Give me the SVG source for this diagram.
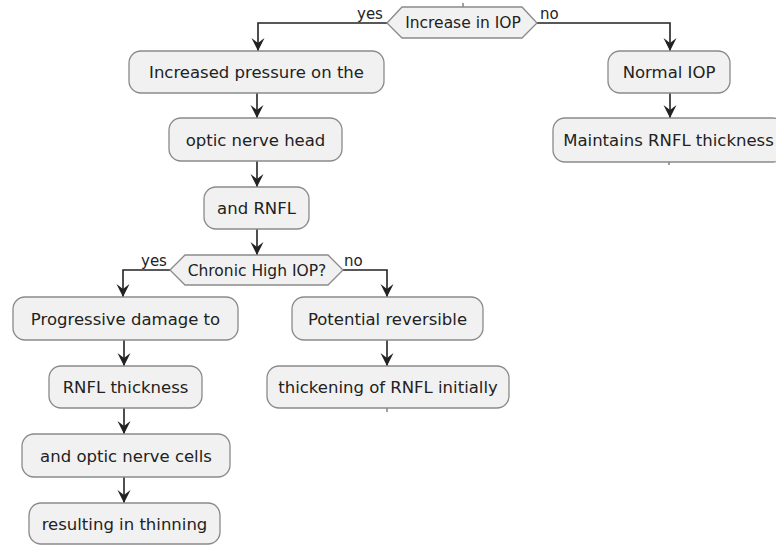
<svg xmlns="http://www.w3.org/2000/svg" width="776" height="546" viewBox="0 0 776 546">
<defs>
<marker id="ah" viewBox="0 0 14 14" refX="13" refY="7" markerWidth="14" markerHeight="14" markerUnits="userSpaceOnUse" orient="auto">
<path d="M0,0.5 L13,7 L0,13.5 L5,7 Z" fill="#222"/>
</marker>
</defs>
<style>
.box{fill:#F1F1F1;stroke:#8a8a8a;stroke-width:1.3}
.t{font-family:"DejaVu Sans",sans-serif;font-size:16.5px;fill:#222;text-anchor:middle}
.dt{font-family:"DejaVu Sans",sans-serif;font-size:15.5px;fill:#222;text-anchor:middle}
.lb{font-family:"DejaVu Sans",sans-serif;font-size:15px;fill:#222}
.c{fill:none;stroke:#222;stroke-width:1.6}
.s{fill:none;stroke:#444;stroke-width:1}
</style>
<rect width="776" height="546" fill="#fff"/>
<g id="connectors">
<path class="s" d="M463,3 V7"/>
<path class="c" d="M387,23 H258 V51" marker-end="url(#ah)"/>
<path class="c" d="M537,23 H670 V51" marker-end="url(#ah)"/>
<path class="c" d="M257,93 V118" marker-end="url(#ah)"/>
<path class="c" d="M257,161 V187" marker-end="url(#ah)"/>
<path class="c" d="M257,229 V255" marker-end="url(#ah)"/>
<path class="c" d="M170,270 H123 V297" marker-end="url(#ah)"/>
<path class="c" d="M343,270 H387 V297" marker-end="url(#ah)"/>
<path class="c" d="M124,340 V366" marker-end="url(#ah)"/>
<path class="c" d="M387,340 V366" marker-end="url(#ah)"/>
<path class="c" d="M124,408 V434" marker-end="url(#ah)"/>
<path class="c" d="M124,477 V503" marker-end="url(#ah)"/>
<path class="c" d="M670,93 V118" marker-end="url(#ah)"/>
<path class="s" d="M387,408 V412"/>
<path class="s" d="M669,162 V165"/>
<text class="lb" x="357" y="19">yes</text>
<text class="lb" x="540" y="19">no</text>
<text class="lb" x="141" y="266">yes</text>
<text class="lb" x="344" y="266">no</text>
</g>
<g id="d1">
<polygon class="box" points="387,23 402,7 522,7 537,23 522,38 402,38"/>
<text class="dt" x="463" y="28">Increase in IOP</text>
</g>
<g id="d2">
<polygon class="box" points="170,270 185,255 328,255 343,270 328,285 185,285"/>
<text class="dt" x="257" y="275.5">Chronic High IOP?</text>
</g>
<g id="n1">
<rect class="box" x="129" y="51" width="255" height="42" rx="12"/>
<text class="t" x="256.5" y="78">Increased pressure on the</text>
</g>
<g id="n2">
<rect class="box" x="169" y="118" width="173" height="43" rx="12"/>
<text class="t" x="255.5" y="145.5">optic nerve head</text>
</g>
<g id="n3">
<rect class="box" x="204" y="187" width="105" height="42" rx="12"/>
<text class="t" x="256.5" y="214">and RNFL</text>
</g>
<g id="n4">
<rect class="box" x="13" y="297" width="225" height="43" rx="12"/>
<text class="t" x="125.5" y="324.5">Progressive damage to</text>
</g>
<g id="n5">
<rect class="box" x="292" y="297" width="191" height="43" rx="12"/>
<text class="t" x="387.5" y="324.5">Potential reversible</text>
</g>
<g id="n6">
<rect class="box" x="49" y="366" width="153" height="42" rx="12"/>
<text class="t" x="125.5" y="393">RNFL thickness</text>
</g>
<g id="n7">
<rect class="box" x="267" y="366" width="242" height="42" rx="12"/>
<text class="t" x="388" y="393">thickening of RNFL initially</text>
</g>
<g id="n8">
<rect class="box" x="22" y="434" width="208" height="43" rx="12"/>
<text class="t" x="126" y="461.5">and optic nerve cells</text>
</g>
<g id="n9">
<rect class="box" x="29" y="503" width="191" height="41" rx="12"/>
<text class="t" x="124.5" y="529.5">resulting in thinning</text>
</g>
<g id="n10">
<rect class="box" x="608" y="51" width="122" height="42" rx="12"/>
<text class="t" x="669" y="78">Normal IOP</text>
</g>
<g id="n11">
<rect class="box" x="553" y="118" width="232" height="44" rx="12"/>
<text class="t" x="668.5" y="146">Maintains RNFL thickness</text>
</g>
</svg>
